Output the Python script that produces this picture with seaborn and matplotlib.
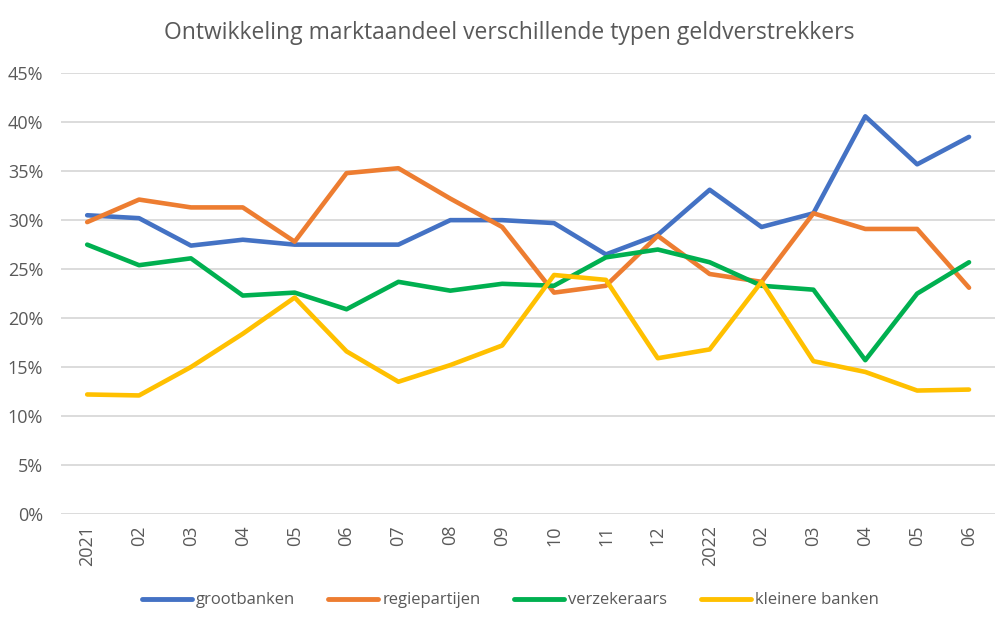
import matplotlib
matplotlib.use("Agg")
import matplotlib.pyplot as plt
import numpy as np
import pandas as pd
import seaborn as sns
from matplotlib.ticker import PercentFormatter

maanden = ["2021", "02", "03", "04", "05", "06", "07", "08", "09", "10", "11", "12",
           "2022", "02", "03", "04", "05", "06"]

grootbanken = [30.5, 30.2, 27.4, 28.0, 27.5, 27.5, 27.5, 30.0, 30.0, 29.7, 26.5, 28.5,
               33.1, 29.3, 30.7, 40.6, 35.7, 38.5]
regiepartijen = [29.8, 32.1, 31.3, 31.3, 27.8, 34.8, 35.3, 32.2, 29.3, 22.6, 23.3, 28.4,
                 24.5, 23.7, 30.7, 29.1, 29.1, 23.1]
verzekeraars = [27.5, 25.4, 26.1, 22.3, 22.6, 20.9, 23.7, 22.8, 23.5, 23.3, 26.2, 27.0,
                25.7, 23.3, 22.9, 15.7, 22.5, 25.7]
kleinere_banken = [12.2, 12.1, 15.0, 18.4, 22.1, 16.6, 13.5, 15.2, 17.2, 24.4, 23.9, 15.9,
                   16.8, 23.7, 15.6, 14.5, 12.6, 12.7]

series = {
    "grootbanken": grootbanken,
    "regiepartijen": regiepartijen,
    "verzekeraars": verzekeraars,
    "kleinere banken": kleinere_banken,
}
kleuren = ["#4472C4", "#ED7D31", "#00B050", "#FFC000"]

rows = []
for naam, vals in series.items():
    for i, v in enumerate(vals):
        rows.append({"idx": i, "waarde": v / 100, "type": naam})
df = pd.DataFrame(rows)

sns.set_style("white")
plt.rcParams["font.family"] = ["Open Sans", "DejaVu Sans"]
grijs = "#595959"

fig = plt.figure(figsize=(10.04, 6.26), dpi=100)
ax = fig.add_axes([0.061, 0.179, 0.930, 0.704])

sns.lineplot(data=df, x="idx", y="waarde", hue="type", palette=kleuren,
             linewidth=3.3, ax=ax, legend=True)

ax.set_xlim(-0.5, len(maanden) - 0.5)
ax.set_ylim(0, 0.45)
ax.set_yticks(np.arange(0, 0.46, 0.05))
ax.yaxis.set_major_formatter(PercentFormatter(1.0, decimals=0))
ax.set_xticks(range(len(maanden)))
ax.set_xticklabels(maanden, rotation=90)
ax.tick_params(axis="both", colors=grijs, labelsize=13, length=0)
ax.tick_params(axis="x", pad=8)
ax.tick_params(axis="y", pad=13)
ax.grid(axis="y", color="#D9D9D9", linewidth=1.3)
ax.set_axisbelow(True)
for s in ax.spines.values():
    s.set_visible(False)
ax.set_xlabel("")
ax.set_ylabel("")

fig.suptitle("Ontwikkeling marktaandeel verschillende typen geldverstrekkers",
             x=0.507, y=0.967, fontsize=16.5, color=grijs)

handles, labels = ax.get_legend_handles_labels()
ax.get_legend().remove()
leg = fig.legend(handles, labels, loc="center", bbox_to_anchor=(0.508, 0.041), ncol=4,
                 frameon=False, fontsize=12, handlelength=3.0, handletextpad=0.25,
                 columnspacing=2.0, labelcolor=grijs)
for h in leg.get_lines():
    h.set_linewidth(3.5)

fig.savefig("out.png", dpi=100)
